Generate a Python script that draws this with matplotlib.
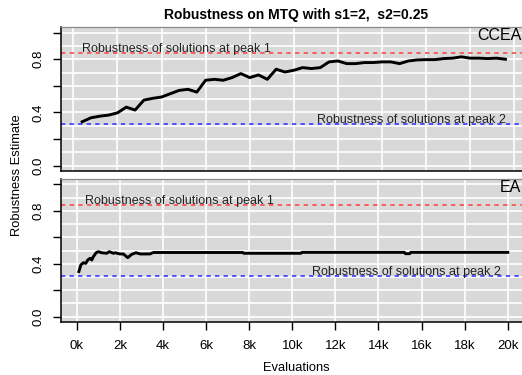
import numpy as np
import matplotlib
matplotlib.use('Agg')
from matplotlib import pyplot as plt
from matplotlib.ticker import FuncFormatter

plt.rcParams['font.family'] = ['Liberation Sans', 'DejaVu Sans']

# robustness estimate over evaluations (x in thousands)
cceaEvals = np.arange(1, 50) * 0.4
cceaRobust = [0.330, 0.360, 0.372, 0.380, 0.397, 0.440, 0.418, 0.493, 0.506, 0.516,
              0.541, 0.566, 0.574, 0.553, 0.642, 0.649, 0.642, 0.662, 0.692, 0.662,
              0.682, 0.649, 0.725, 0.704, 0.717, 0.737, 0.730, 0.737, 0.780, 0.787,
              0.767, 0.767, 0.775, 0.775, 0.780, 0.780, 0.767, 0.787, 0.795, 0.797,
              0.797, 0.805, 0.808, 0.818, 0.808, 0.808, 0.805, 0.808, 0.800]

eaEvals = [0.1, 0.19, 0.31, 0.42, 0.51, 0.62, 0.7, 0.77, 0.9, 1.0, 1.16, 1.39, 1.51,
           1.7, 1.78, 2.0, 2.16, 2.37, 2.55, 2.75, 2.94, 3.4, 3.56, 7.7, 7.75, 10.4,
           10.45, 15.2, 15.25, 15.45, 15.5, 20.0]
eaRobust = [0.341, 0.391, 0.408, 0.403, 0.428, 0.441, 0.428, 0.453, 0.483, 0.491,
            0.483, 0.479, 0.491, 0.479, 0.483, 0.474, 0.474, 0.446, 0.471, 0.483,
            0.474, 0.474, 0.485, 0.485, 0.479, 0.479, 0.486, 0.486, 0.476, 0.476,
            0.486, 0.486]

peak1 = 0.845
peak2 = 0.31
xTicks = np.arange(0, 21, 2)
xTickLabels = ['%dk' % t for t in xTicks]

W, H = 522, 375
fig = plt.figure(figsize=(W / 100, H / 100), dpi=100)

def px_axes(left, top, right, bottom):
    return fig.add_axes([left / W, 1 - bottom / H, (right - left) / W, (bottom - top) / H])

axTop = px_axes(61, 27.3, 523.5, 171)
axBot = px_axes(61, 179, 523.5, 322)

panels = [
    (axTop, cceaEvals, cceaRobust, 'CCEA', (-0.56, 20.42), 0.4, 19.6),
    (axBot, eaEvals, eaRobust, 'EA', (-0.73, 20.73), 0.4, 19.7),
]

for ax, xs, ys, name, xlim, p1x, p2x in panels:
    ax.set_facecolor('#d9d9d9')
    ax.set_xlim(*xlim)
    ax.set_ylim(-0.04, 1.04)

    ax.set_yticks(np.arange(0, 1.01, 0.2))
    ax.set_yticks(np.arange(0, 1.01, 0.1), minor=True)
    ax.yaxis.set_major_formatter(FuncFormatter(
        lambda v, p: '%.1f' % v if round(v * 10) % 4 == 0 else ''))
    ax.tick_params(axis='y', which='major', length=6, width=1, direction='out',
                   pad=6, labelsize=9.5, labelrotation=90)
    ax.tick_params(axis='y', which='minor', length=0)
    for lab in ax.get_yticklabels():
        lab.set_va('center')

    ax.set_xticks(xTicks)
    ax.grid(True, which='both', axis='y', color='white', lw=1.2)
    ax.grid(True, which='major', axis='x', color='white', lw=1.2)
    ax.set_axisbelow(True)

    for side in ['top', 'right']:
        ax.spines[side].set_color('#8a8a8a')
        ax.spines[side].set_linewidth(0.9)
    for side in ['left', 'bottom']:
        ax.spines[side].set_color('black')
        ax.spines[side].set_linewidth(1.1)

    ax.axhline(peak1, color='#ff4a4a', lw=1.2, ls=(0, (2.6, 2.6)))
    ax.axhline(peak2, color='#2a2aff', lw=1.1, ls=(0, (2.8, 2.8)))
    ax.text(p1x, peak1 + 0.03, 'Robustness of solutions at peak 1', fontsize=9,
            ha='left', va='center', color='#222222')
    ax.text(p2x, peak2 + 0.03, 'Robustness of solutions at peak 2', fontsize=9,
            ha='right', va='center', color='#222222')

    ax.plot(xs, ys, color='black', lw=2.1, solid_joinstyle='round')
    ax.text(0.995, 0.94, name, transform=ax.transAxes, fontsize=11.5,
            ha='right', va='center')

axTop.tick_params(axis='x', length=0, labelbottom=False)
axBot.set_xticklabels(xTickLabels)
axBot.tick_params(axis='x', length=6, width=1, direction='out', pad=7, labelsize=9.5)

fig.text(296.5 / W, 1 - 15 / H, 'Robustness on MTQ with s1=2,  s2=0.25',
         fontsize=10, fontweight='bold', ha='center', va='center')
fig.text(296.5 / W, 1 - 368 / H, 'Evaluations', fontsize=9.3, ha='center', va='center')
fig.text(17 / W, 1 - 175 / H, 'Robustness Estimate', fontsize=9.3,
         rotation=90, ha='center', va='center')

fig.savefig('out.png', dpi=100)
